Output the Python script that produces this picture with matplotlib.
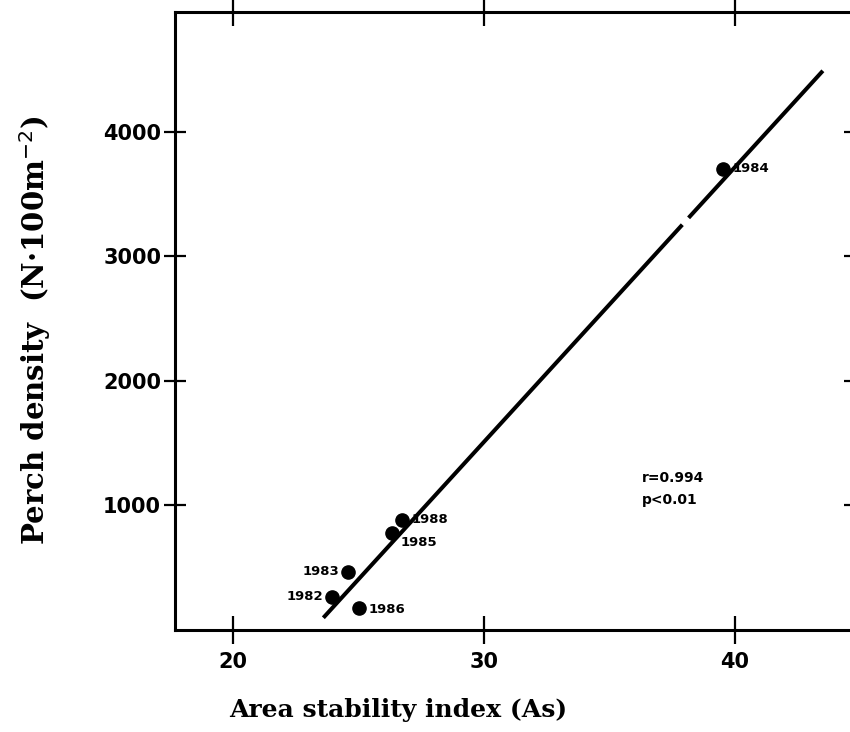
import numpy as np
import matplotlib.pyplot as plt

# Perch density against area stability index, one point per year
years = ["1982", "1983", "1984", "1985", "1986", "1988"]
stability = [23.94, 24.58, 39.52, 26.33, 25.02, 26.73]
density = [265, 466, 3703, 779, 177, 884]

# fitted regression line (drawn with a small break near x = 38)
fit_slope = 220.6
fit_intercept = -5108.0
fit_x = [23.6, 43.5]
fit_gap = [37.9, 38.15]

# label placement for each year (offset in points, alignment)
label_pos = {
    "1982": ((-6, 0), "right", "center"),
    "1983": ((-6, 0), "right", "center"),
    "1984": ((7, 0), "left", "center"),
    "1985": ((6, -7), "left", "center"),
    "1986": ((7, -1), "left", "center"),
    "1988": ((7, 0), "left", "center"),
}

fig = plt.figure(figsize=(8.5, 7.32), dpi=100)
ax = fig.add_axes([175 / 850, 102 / 732, 680 / 850, 618 / 732])

ax.set_xlim(17.69, 44.78)
ax.set_ylim(0, 4960)

seg1 = np.array([fit_x[0], fit_gap[0]])
seg2 = np.array([fit_gap[1], fit_x[1]])
for seg in (seg1, seg2):
    ax.plot(seg, fit_slope * seg + fit_intercept, color="black", lw=2.9,
            solid_capstyle="butt")

ax.plot(stability, density, "o", color="black", ms=9.5)

for yr, x, y in zip(years, stability, density):
    off, ha, va = label_pos[yr]
    ax.annotate(yr, (x, y), xytext=off, textcoords="offset points",
                ha=ha, va=va, fontsize=9.5, fontweight="bold",
                family="DejaVu Sans")

ax.text(36.3, 1220, "r=0.994", fontsize=10, fontweight="bold", va="center")
ax.text(36.3, 1044, "p<0.01", fontsize=10, fontweight="bold", va="center")

ax.set_xticks([20, 30, 40])
ax.set_yticks([1000, 2000, 3000, 4000])
ax.tick_params(axis="x", direction="inout", length=20, width=1.6,
               top=True, labelsize=15, pad=6)
ax.tick_params(axis="y", direction="inout", length=16, width=1.6,
               right=True, labelsize=15, pad=2)
for lab in ax.get_xticklabels() + ax.get_yticklabels():
    lab.set_fontweight("bold")

for side in ("left", "bottom", "top", "right"):
    ax.spines[side].set_linewidth(2.2)

ax.set_xlabel("Area stability index (As)", family="DejaVu Serif",
              fontweight="bold", fontsize=18)
ax.xaxis.set_label_coords(0.328, -0.11)
ax.set_ylabel("Perch density  (N·100m$^{-2}$)", family="DejaVu Serif",
              fontweight="bold", fontsize=21)
ax.yaxis.set_label_coords(-0.18, 0.485)

fig.savefig("out.png", dpi=100)
